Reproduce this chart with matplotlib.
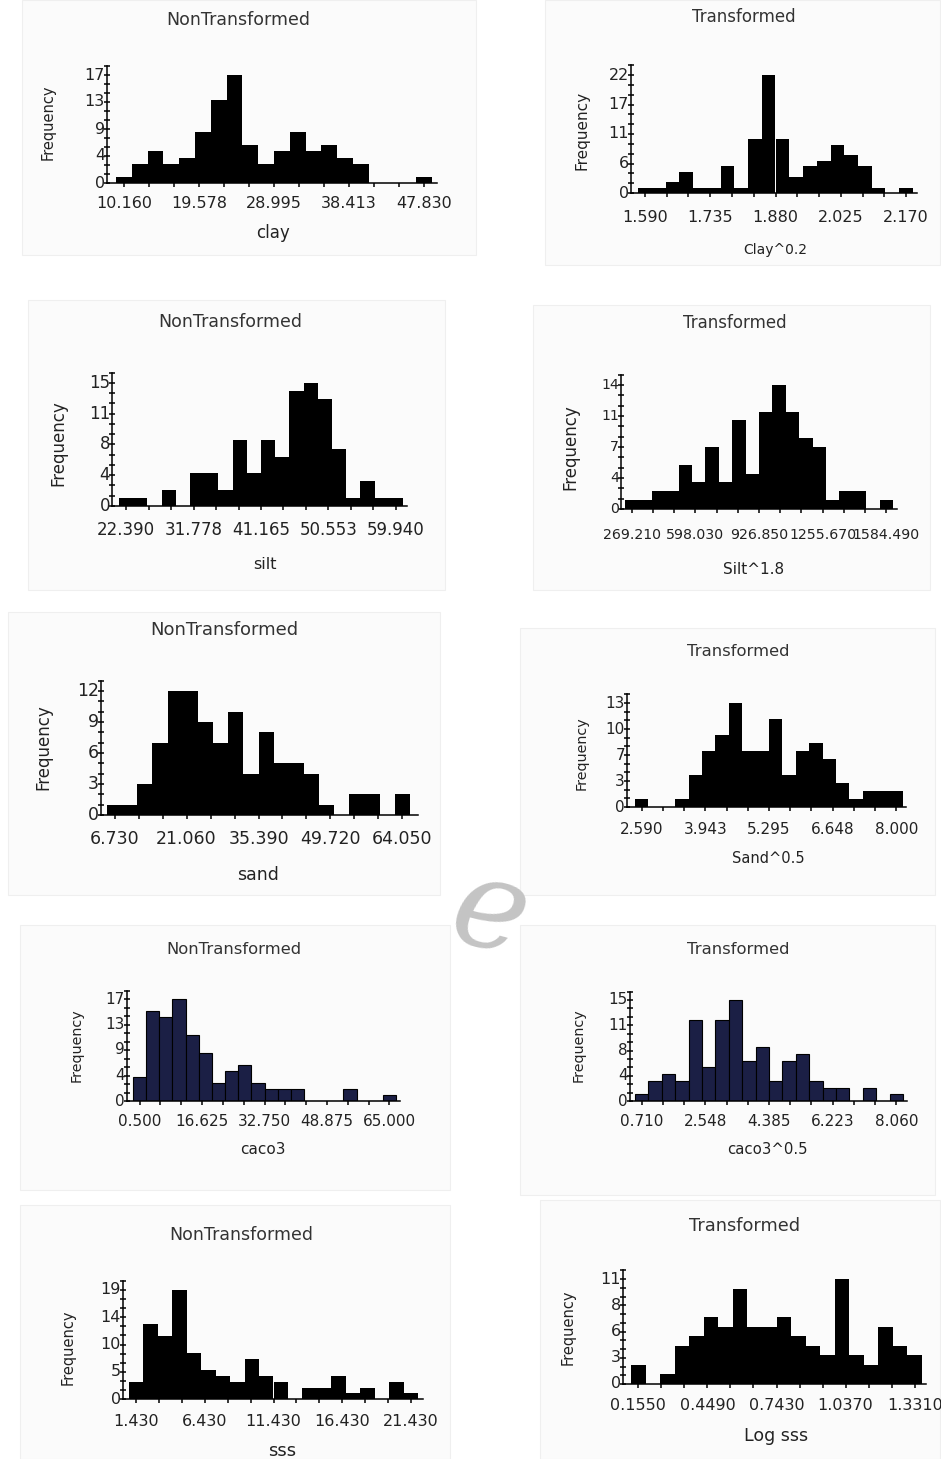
import numpy as np
import matplotlib
matplotlib.use("Agg")
import matplotlib.pyplot as plt
from matplotlib.patches import Rectangle

W, H = 941, 1459

# ---- bin counts (20 bins per histogram) ----
clay_counts = [1, 3, 5, 3, 4, 8, 13, 17, 6, 3, 5, 8, 5, 6, 4, 3, 0, 0, 0, 1]
clay02_counts = [1, 1, 2, 4, 1, 1, 5, 1, 10, 22, 10, 3, 5, 6, 9, 7, 5, 1, 0, 1]
silt_counts = [1, 1, 0, 2, 0, 4, 4, 2, 8, 4, 8, 6, 14, 15, 13, 7, 1, 3, 1, 1]
silt18_counts = [1, 1, 2, 2, 5, 3, 7, 3, 10, 4, 11, 14, 11, 8, 7, 1, 2, 2, 0, 1]
sand_counts = [1, 1, 3, 7, 12, 12, 9, 7, 10, 4, 8, 5, 5, 4, 1, 0, 2, 2, 0, 2]
sand05_counts = [1, 0, 0, 1, 4, 7, 9, 13, 7, 7, 11, 4, 7, 8, 6, 3, 1, 2, 2, 2]
caco3_counts = [4, 15, 14, 17, 11, 8, 3, 5, 6, 3, 2, 2, 2, 0, 0, 0, 2, 0, 0, 1]
caco305_counts = [1, 3, 4, 3, 12, 5, 12, 15, 6, 8, 3, 6, 7, 3, 2, 2, 0, 2, 0, 1]
sss_counts = [3, 13, 11, 19, 8, 5, 4, 3, 7, 4, 3, 0, 2, 2, 4, 1, 2, 0, 3, 1]
logsss_counts = [2, 0, 1, 4, 5, 7, 6, 10, 6, 6, 7, 5, 4, 3, 11, 3, 2, 6, 4, 3]

# ---- tick labels ----
clay_xt = ["10.160", "19.578", "28.995", "38.413", "47.830"]
clay02_xt = ["1.590", "1.735", "1.880", "2.025", "2.170"]
silt_xt = ["22.390", "31.778", "41.165", "50.553", "59.940"]
silt18_xt = ["269.210", "598.030", "926.850", "1255.670", "1584.490"]
sand_xt = ["6.730", "21.060", "35.390", "49.720", "64.050"]
sand05_xt = ["2.590", "3.943", "5.295", "6.648", "8.000"]
caco3_xt = ["0.500", "16.625", "32.750", "48.875", "65.000"]
caco305_xt = ["0.710", "2.548", "4.385", "6.223", "8.060"]
sss_xt = ["1.430", "6.430", "11.430", "16.430", "21.430"]
logsss_xt = ["0.1550", "0.4490", "0.7430", "1.0370", "1.3310"]

clay_yt = ["0", "4", "9", "13", "17"]
clay02_yt = ["0", "6", "11", "17", "22"]
silt_yt = ["0", "4", "8", "11", "15"]
silt18_yt = ["0", "4", "7", "11", "14"]
sand_yt = ["0", "3", "6", "9", "12"]
sand05_yt = ["0", "3", "7", "10", "13"]
caco3_yt = ["0", "4", "9", "13", "17"]
caco305_yt = ["0", "4", "8", "11", "15"]
sss_yt = ["0", "5", "10", "14", "19"]
logsss_yt = ["0", "3", "6", "8", "11"]

titles = ["NonTransformed", "Transformed"] * 5
xlabels = ["clay", "Clay^0.2", "silt", "Silt^1.8", "sand", "Sand^0.5",
           "caco3", "caco3^0.5", "sss", "Log sss"]

panels = [
    (clay_counts, clay_xt, clay_yt), (clay02_counts, clay02_xt, clay02_yt),
    (silt_counts, silt_xt, silt_yt), (silt18_counts, silt18_xt, silt18_yt),
    (sand_counts, sand_xt, sand_yt), (sand05_counts, sand05_xt, sand05_yt),
    (caco3_counts, caco3_xt, caco3_yt), (caco305_counts, caco305_xt, caco305_yt),
    (sss_counts, sss_xt, sss_yt), (logsss_counts, logsss_xt, logsss_yt),
]

# layout in pixels: y-axis x, x-axis end, x-axis y, y of max tick, bars left/right,
# title xy, xlabel xy, "Frequency" xy, tick label row y, panel box,
# font sizes (ticks, title, xlabel, ylabel)
layout = [
    dict(ax=(107, 437, 183, 75), bars=(116, 432), title=(238, 20), xl=(273, 233), fq=(48, 122), ty=204,
         box=(22, 0, 476, 255), fs=(11.5, 12.5, 12, 10.5)),
    dict(ax=(631, 917, 193, 75), bars=(638, 913), title=(744, 17), xl=(775, 250), fq=(582, 130), ty=218,
         box=(545, 0, 940, 265), fs=(11.5, 12, 10, 11)),
    dict(ax=(112, 407, 506, 383), bars=(119, 403), title=(230, 322), xl=(265, 565), fq=(58, 443), ty=530,
         box=(28, 300, 445, 590), fs=(12, 12.5, 11.5, 12)),
    dict(ax=(621, 897, 509, 385), bars=(625, 893), title=(735, 323), xl=(754, 569), fq=(570, 447), ty=535,
         box=(533, 305, 930, 590), fs=(10.2, 12, 11, 12)),
    dict(ax=(101, 418, 815, 691), bars=(107, 410), title=(224, 630), xl=(258, 875), fq=(43, 747), ty=839,
         box=(8, 612, 440, 895), fs=(12.5, 13, 12.5, 12)),
    dict(ax=(627, 906, 807, 703), bars=(635, 903), title=(738, 651), xl=(768, 858), fq=(582, 753), ty=829,
         box=(520, 628, 935, 895), fs=(11, 11.8, 10.5, 10.3)),
    dict(ax=(127, 400, 1101, 999), bars=(133, 396), title=(234, 949), xl=(263, 1149), fq=(77, 1045), ty=1122,
         box=(20, 925, 450, 1190), fs=(11, 11.8, 11, 10.3)),
    dict(ax=(630, 907, 1101, 1000), bars=(635, 903), title=(738, 949), xl=(767, 1150), fq=(579, 1045), ty=1122,
         box=(520, 925, 935, 1195), fs=(11, 11.8, 10.7, 10.3)),
    dict(ax=(123, 423, 1399, 1290), bars=(129, 418), title=(241, 1235), xl=(282, 1451), fq=(68, 1347), ty=1421,
         box=(20, 1205, 450, 1459), fs=(11.5, 12.5, 13, 10.5)),
    dict(ax=(623, 926, 1384, 1279), bars=(631, 922), title=(745, 1226), xl=(776, 1436), fq=(568, 1327), ty=1405,
         box=(540, 1200, 940, 1459), fs=(11.5, 12.8, 12.5, 10.5)),
]

bar_colors = ["black"] * 6 + ["#1b1f45", "#1b1f45"] + ["black"] * 2

fig = plt.figure(figsize=(W / 100, H / 100), dpi=100)
fig.patch.set_facecolor("white")


def fx(x):
    return x / W


def fy(y):
    return 1 - y / H


for i, ((counts, xt, yt), L) in enumerate(zip(panels, layout)):
    bx0, by0, bx1, by1 = L["box"]
    fig.patches.append(Rectangle((fx(bx0), fy(by1)), (bx1 - bx0) / W, (by1 - by0) / H,
                                 transform=fig.transFigure, facecolor="#fbfbfb",
                                 edgecolor="#efefef", lw=0.8, zorder=-5))

    counts = np.asarray(counts, float)
    lo, hi = float(xt[0]), float(xt[-1])
    n = len(counts)
    w = (hi - lo) / (n - 1)
    centers = np.linspace(lo, hi, n)
    ymax = float(yt[-1])
    ytop = ymax * 13 / 12

    ax_l, ax_r, x_y, ymax_y = L["ax"]
    bar_l, bar_r = L["bars"]
    h_px = (x_y - ymax_y) * 13 / 12
    ax = fig.add_axes([fx(ax_l), fy(x_y), (ax_r - ax_l) / W, h_px / H])
    ax.patch.set_alpha(0)
    ax.set_zorder(2)

    e0, e1 = lo - w / 2, hi + w / 2
    s = (e1 - e0) / (bar_r - bar_l)
    ax.set_xlim(e0 - (bar_l - ax_l) * s, e1 + (ax_r - bar_r) * s)
    ax.set_ylim(0, ytop)

    if bar_colors[i] == "black":
        ax.bar(centers, counts, width=w, color="black", linewidth=0)
    else:
        ax.bar(centers, counts, width=w, color=bar_colors[i], edgecolor="black", linewidth=0.8)

    for sp in ("top", "right"):
        ax.spines[sp].set_visible(False)
    for sp in ("left", "bottom"):
        ax.spines[sp].set_linewidth(1.1)

    xpos = np.linspace(lo, hi, len(xt))
    ax.set_xticks(xpos)
    ax.set_xticks(np.linspace(lo, hi, 13), minor=True)
    ax.set_xticklabels([])
    ax.tick_params(axis="x", which="both", direction="out", length=3, width=1.1)
    ax.set_yticks(np.linspace(0, ymax, len(yt)))
    ax.set_yticks(np.linspace(0, ytop, 14), minor=True)
    ax.set_yticklabels([])
    ax.tick_params(axis="y", which="both", direction="inout", length=5, width=1.1)

    fs_tick, fs_title, fs_xl, fs_fq = L["fs"]
    for p, lbl in zip(xpos, xt):
        ax.annotate(lbl, xy=(p, 0), xycoords=ax.get_xaxis_transform(),
                    xytext=(0, -(L["ty"] - x_y)), textcoords="offset pixels",
                    ha="center", va="center", fontsize=fs_tick, color="#222222",
                    annotation_clip=False)
    for v, lbl in zip(np.linspace(0, ymax, len(yt)), yt):
        ax.annotate(lbl, xy=(0, v), xycoords=ax.get_yaxis_transform(),
                    xytext=(-2, 0), textcoords="offset pixels",
                    ha="right", va="center", fontsize=fs_tick, color="#222222",
                    annotation_clip=False)

    fig.text(fx(L["title"][0]), fy(L["title"][1]), titles[i], ha="center", va="center",
             fontsize=fs_title, color="#333333")
    fig.text(fx(L["xl"][0]), fy(L["xl"][1]), xlabels[i], ha="center", va="center",
             fontsize=fs_xl, color="#222222")
    fig.text(fx(L["fq"][0]), fy(L["fq"][1]), "Frequency", ha="center", va="center",
             rotation=90, fontsize=fs_fq, color="#222222")

# faint watermark letter in the middle of the page
fig.text(fx(490), fy(915), "e", ha="center", va="center", fontsize=90,
         family="DejaVu Serif", style="italic", color="#c4c4c4", rotation=-15, zorder=-1)

fig.savefig("out.png", dpi=100)
